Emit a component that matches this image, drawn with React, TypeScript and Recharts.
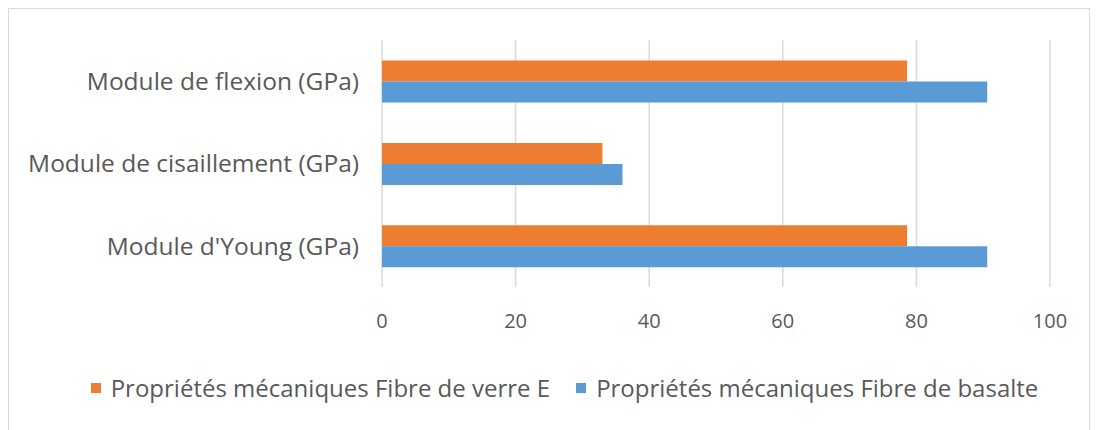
import { BarChart, Bar, XAxis, YAxis, CartesianGrid, Legend } from "recharts"

const categories = ["Module de flexion (GPa)", "Module de cisaillement (GPa)", "Module d'Young (GPa)"]
const verreE = [78.6, 33, 78.6]
const basalte = [90.6, 36, 90.6]
const xTicks = [0, 20, 40, 60, 80, 100]

const seriesNames = ["Propriétés mécaniques Fibre de verre E", "Propriétés mécaniques Fibre de basalte"]
const seriesColors = ["#ED7D31", "#5B9BD5"]

const data = categories.map((name, i) => ({
  name,
  verre: verreE[i],
  basalte: basalte[i],
}))

const FONT = "'Open Sans', sans-serif"
const TEXT = "#595959"

// legend drawn in a fixed order (verre first, then basalte)
function LegendContent() {
  return (
    <div style={{ display: "flex", justifyContent: "center", alignItems: "center", gap: 26, paddingLeft: 70 }}>
      {seriesNames.map((n, i) => (
        <div key={n} style={{ display: "flex", alignItems: "center" }}>
          <span style={{ width: 10, height: 10, background: seriesColors[i], marginRight: 10, display: "inline-block" }} />
          <span style={{ color: TEXT, fontSize: 24, fontFamily: FONT, whiteSpace: "nowrap" }}>{n}</span>
        </div>
      ))}
    </div>
  )
}

export default function App() {
  return (
    <div
      style={{
        width: 1080,
        height: 421,
        border: "1px solid #d9d9d9",
        background: "#fff",
        fontFamily: FONT,
      }}
    >
      <BarChart
        width={1080}
        height={421}
        data={data}
        layout="vertical"
        barCategoryGap="25%"
        barGap={0}
        margin={{ top: 31, right: 39, bottom: 53, left: 0 }}
      >
        <CartesianGrid horizontal={false} stroke="#d9d9d9" strokeWidth={1.5} />
        <XAxis
          type="number"
          domain={[0, 100]}
          ticks={xTicks}
          axisLine={false}
          tickLine={false}
          tickMargin={21}
          height={60}
          tick={{ fill: TEXT, fontSize: 20, fontFamily: FONT }}
        />
        <YAxis
          type="category"
          dataKey="name"
          width={373}
          axisLine={false}
          tickLine={false}
          tickMargin={17}
          tick={{ fill: TEXT, fontSize: 24.5, fontFamily: FONT }}
        />
        <Legend
          verticalAlign="bottom"
          align="center"
          height={30}
          wrapperStyle={{ top: 362 }}
          content={<LegendContent />}
        />
        <Bar dataKey="verre" name={seriesNames[0]} fill={seriesColors[0]} isAnimationActive={false} />
        <Bar dataKey="basalte" name={seriesNames[1]} fill={seriesColors[1]} isAnimationActive={false} />
      </BarChart>
    </div>
  )
}
